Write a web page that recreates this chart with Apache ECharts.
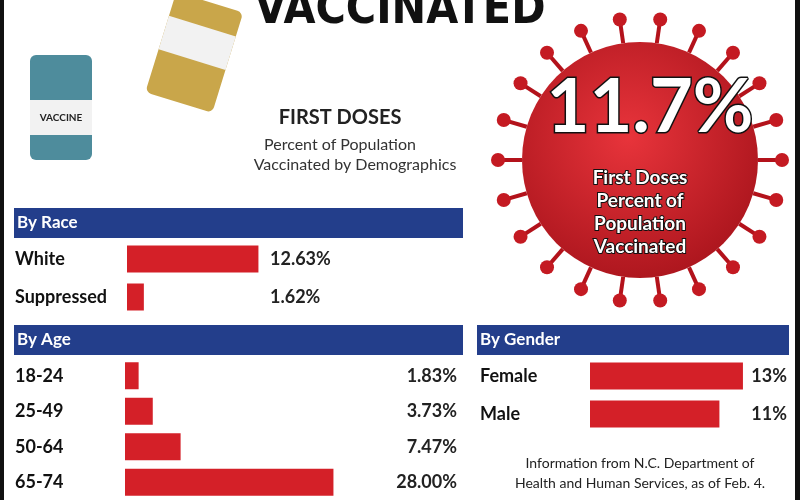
<!DOCTYPE html>
<html><head><meta charset="utf-8">
<script src="https://cdn.jsdelivr.net/npm/echarts@6/dist/echarts.min.js"></script>
<style>html,body{margin:0;background:#fff}#c{width:800px;height:500px}</style>
</head><body><div id="c"></div>
<script>
const raceCats = ['White', 'Suppressed'];
const raceValues = [12.63, 1.62];
const ageCats = ['18-24', '25-49', '50-64', '65-74'];
const ageValues = [1.83, 3.73, 7.47, 28.00];
const genderCats = ['Female', 'Male'];
const genderValues = [13, 11];

const RED = '#d42028', BLUE = '#233e8b';
const F = 'Lato, "Open Sans", sans-serif';
const chart = echarts.init(document.getElementById('c'));

const grids = [
  {left: 127, top: 240, width: 333, height: 76},
  {left: 125, top: 358, width: 335, bottom: -14},
  {left: 590, top: 357, width: 200, height: 76}
];
const lefts = [127, 125, 590];
const maxes = [32, 45, 17];
const cats = [raceCats, ageCats, genderCats];
const vals = [raceValues, ageValues, genderValues];
const labCat = {color: '#111', fontFamily: F, fontWeight: 'bold', fontSize: 18};

const xAxis = [], yAxis = [], series = [];
grids.forEach((g, i) => {
  xAxis.push({gridIndex: i, type: 'value', min: 0, max: maxes[i], show: false});
  yAxis.push({gridIndex: i, type: 'category', inverse: true, data: cats[i],
    axisLine: {show: false}, axisTick: {show: false},
    axisLabel: Object.assign({}, labCat, {align: 'left', margin: lefts[i] - (i === 2 ? 480 : 15)})});
  const fmt = i === 2 ? vals[i].map(v => v + '%') : vals[i].map(v => v.toFixed(2) + '%');
  yAxis.push({gridIndex: i, type: 'category', inverse: true, position: 'right', data: fmt,
    offset: i === 0 ? -192 : 0,
    axisLine: {show: false}, axisTick: {show: false},
    axisLabel: Object.assign({}, labCat, {fontWeight: 'bold', fontSize: 18, color: '#222',
      align: i === 0 ? 'left' : 'right', margin: i === 0 ? 2 : -3})});
  series.push({type: 'bar', xAxisIndex: i, yAxisIndex: 2 * i, data: vals[i],
    barWidth: 27, itemStyle: {color: RED}, silent: true});
});

const graphic = [
  {type: 'text', left: 'center', top: -12, style: {text: 'VACCINATED', font: '900 46px "DejaVu Sans Condensed", ' + F, fill: '#111'}},
  {type: 'text', x: 340, y: 118, style: {text: 'FIRST DOSES', font: 'bold 20px ' + F, fill: '#222', align: 'center', verticalAlign: 'middle'}},
  {type: 'text', x: 340, y: 145, style: {text: 'Percent of Population', font: '16px ' + F, fill: '#333', align: 'center', verticalAlign: 'middle'}},
  {type: 'text', x: 355, y: 165, style: {text: 'Vaccinated by Demographics', font: '16px ' + F, fill: '#333', align: 'center', verticalAlign: 'middle'}},
  {type: 'rect', shape: {x: 0, y: 0, width: 4, height: 500}, style: {fill: '#111'}},
  {type: 'rect', shape: {x: 795, y: 0, width: 5, height: 500}, style: {fill: '#111'}},
  {type: 'rect', shape: {x: 14, y: 208, width: 449, height: 30}, style: {fill: BLUE}},
  {type: 'rect', shape: {x: 14, y: 325, width: 449, height: 30}, style: {fill: BLUE}},
  {type: 'rect', shape: {x: 477, y: 325, width: 312, height: 30}, style: {fill: BLUE}},
  {type: 'text', x: 17, y: 223, style: {text: 'By Race', font: 'bold 17px ' + F, fill: '#fff', verticalAlign: 'middle'}},
  {type: 'text', x: 17, y: 340, style: {text: 'By Age', font: 'bold 17px ' + F, fill: '#fff', verticalAlign: 'middle'}},
  {type: 'text', x: 480, y: 340, style: {text: 'By Gender', font: 'bold 17px ' + F, fill: '#fff', verticalAlign: 'middle'}},
  {type: 'text', x: 640, y: 473, style: {text: 'Information from N.C. Department of\nHealth and Human Services, as of Feb. 4.', font: '14px ' + F, fill: '#222', align: 'center', verticalAlign: 'middle', lineHeight: 20}}
];
const cx = 640, cy = 160, r = 118;
for (let k = 0; k < 22; k++) {
  const a = k / 22 * Math.PI * 2;
  graphic.push({type: 'line', shape: {x1: cx + r * Math.cos(a), y1: cy + r * Math.sin(a), x2: cx + (r + 22) * Math.cos(a), y2: cy + (r + 22) * Math.sin(a)}, style: {stroke: '#b3121b', lineWidth: 4}});
  graphic.push({type: 'circle', shape: {cx: cx + (r + 24) * Math.cos(a), cy: cy + (r + 24) * Math.sin(a), r: 7}, style: {fill: '#c41a22'}});
}
graphic.push({type: 'circle', shape: {cx, cy, r}, style: {fill: new echarts.graphic.RadialGradient(0.45, 0.4, 0.7, [{offset: 0, color: '#e8343b'}, {offset: 1, color: '#a5121a'}])}});
graphic.push({type: 'text', x: 650, y: 108, style: {text: '11.7%', font: 'bold 74px ' + F, fill: '#fff', stroke: '#111', lineWidth: 3, align: 'center', verticalAlign: 'middle'}});
graphic.push({type: 'text', x: 640, y: 212, style: {text: 'First Doses\nPercent of\nPopulation\nVaccinated', font: 'bold 19px ' + F, fill: '#fff', stroke: '#111', lineWidth: 2, align: 'center', verticalAlign: 'middle', lineHeight: 23}});
graphic.push({type: 'rect', shape: {x: 30, y: 55, width: 62, height: 105, r: 6}, style: {fill: '#4e8c9c'}});
graphic.push({type: 'rect', shape: {x: 30, y: 100, width: 62, height: 35}, style: {fill: '#f2f2f2'}});
graphic.push({type: 'text', x: 61, y: 118, style: {text: 'VACCINE', font: 'bold 10px ' + F, fill: '#222', align: 'center', verticalAlign: 'middle'}});
graphic.push({type: 'rect', shape: {x: 160, y: 0, width: 70, height: 105, r: 6}, style: {fill: '#c9a64a'}, rotation: -0.3, originX: 195, originY: 50});
graphic.push({type: 'rect', shape: {x: 160, y: 25, width: 70, height: 35}, style: {fill: '#f2f2f2'}, rotation: -0.3, originX: 195, originY: 50});

chart.setOption({animation: false, grid: grids, xAxis, yAxis, series, graphic});
</script></body></html>
